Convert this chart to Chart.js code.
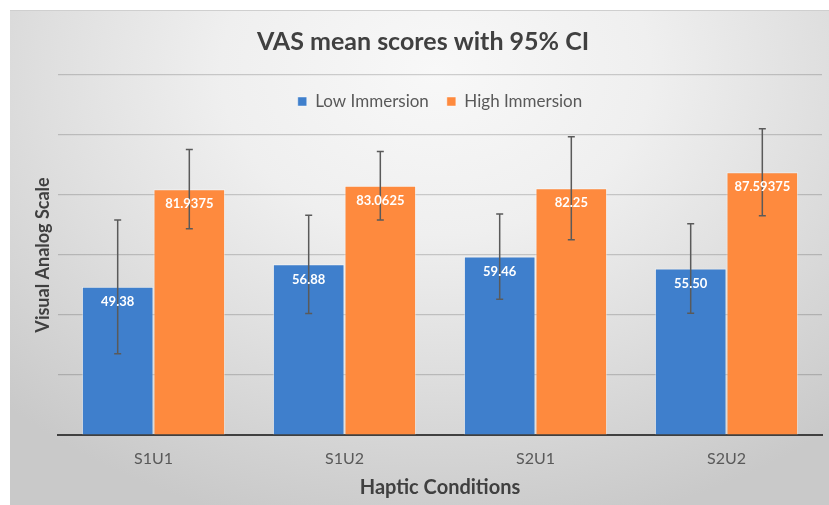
<!DOCTYPE html>
<html>
<head>
<meta charset="utf-8">
<script src="https://cdn.jsdelivr.net/npm/chart.js@4.4.1/dist/chart.umd.min.js"></script>
<style>
  html, body { margin: 0; padding: 0; background: #ffffff; }
  #wrap { position: relative; width: 829px; height: 505px; }
  #bg {
    position: absolute; left: 10px; top: 10px; right: 0; bottom: 0;
    border-top: 1px solid #cfcfcf;
    background: radial-gradient(ellipse 75% 95% at 52% 12%, #f8f8f8 0%, #efefef 35%, #dedede 65%, #c9c9c9 100%);
  }
  #vasChart { position: absolute; left: 0; top: 0; }
</style>
</head>
<body>
<div id="wrap">
  <div id="bg"></div>
  <canvas id="vasChart" width="829" height="505"></canvas>
</div>
<script>
// ## DATA ##
const conditions = ["S1U1", "S1U2", "S2U1", "S2U2"];
const lowImmersion = [49.38, 56.88, 59.46, 55.5];
const highImmersion = [81.9375, 83.0625, 82.25, 87.59375];
// half width of the 95% CI
const lowCI = [22.3, 16.4, 14.2, 14.9];
const highCI = [13.2, 11.4, 17.2, 14.5];
const lowLabels = lowImmersion.map((v) => v.toFixed(2));
const highLabels = highImmersion.map((v) => String(v));

const FONT = "Lato, 'Open Sans', sans-serif";

// legend sits inside the plot area, but laid out as one row
const legendInsidePlugin = {
  id: "legendInside",
  beforeUpdate(chart) {
    if (chart.legend) {
      chart.legend.isHorizontal = () => true;
    }
  },
  afterLayout(chart) {
    const legend = chart.legend;
    if (legend) {
      legend.left = chart.chartArea.left;
      legend.right = chart.chartArea.right;
    }
  },
};

// whiskers for every bar
const errorBarsPlugin = {
  id: "errorBars",
  afterDatasetsDraw(chart) {
    const ctx = chart.ctx;
    const y = chart.scales.y;
    ctx.save();
    ctx.strokeStyle = "#5a5a5a";
    ctx.lineWidth = 1.5;
    chart.data.datasets.forEach((ds, i) => {
      const meta = chart.getDatasetMeta(i);
      meta.data.forEach((bar, j) => {
        const top = y.getPixelForValue(ds.data[j] + ds.ci[j]);
        const bottom = y.getPixelForValue(ds.data[j] - ds.ci[j]);
        ctx.beginPath();
        ctx.moveTo(bar.x, top);
        ctx.lineTo(bar.x, bottom);
        ctx.moveTo(bar.x - 3.5, top);
        ctx.lineTo(bar.x + 3.5, top);
        ctx.moveTo(bar.x - 3.5, bottom);
        ctx.lineTo(bar.x + 3.5, bottom);
        ctx.stroke();
      });
    });
    ctx.restore();
  },
};

// value labels inside the bars
const valueLabelsPlugin = {
  id: "valueLabels",
  afterDraw(chart) {
    const ctx = chart.ctx;
    ctx.save();
    ctx.fillStyle = "#ffffff";
    ctx.font = "bold 13px " + FONT;
    ctx.textAlign = "center";
    ctx.textBaseline = "middle";
    chart.data.datasets.forEach((ds, i) => {
      const meta = chart.getDatasetMeta(i);
      meta.data.forEach((bar, j) => {
        ctx.fillText(ds.valueLabels[j], bar.x, bar.y + 15);
      });
    });
    ctx.restore();
  },
};

const ctx = document.getElementById("vasChart").getContext("2d");
window.vasChart = new Chart(ctx, {
  type: "bar",
  data: {
    labels: conditions,
    datasets: [
      {
        label: "Low Immersion",
        data: lowImmersion,
        ci: lowCI,
        valueLabels: lowLabels,
        backgroundColor: "#3f7fcc",
        borderColor: "rgba(255,255,255,0.45)",
        borderWidth: 1,
        categoryPercentage: 0.75,
        barPercentage: 1.0,
      },
      {
        label: "High Immersion",
        data: highImmersion,
        ci: highCI,
        valueLabels: highLabels,
        backgroundColor: "#fe8a3e",
        borderColor: "rgba(255,255,255,0.45)",
        borderWidth: 1,
        categoryPercentage: 0.75,
        barPercentage: 1.0,
      },
    ],
  },
  options: {
    responsive: false,
    animation: false,
    layout: {
      padding: { left: 24, top: 10, right: 7, bottom: 0 },
    },
    plugins: {
      title: {
        display: true,
        text: "VAS mean scores with 95% CI",
        color: "#404040",
        font: { family: FONT, size: 25, weight: "bold" },
        padding: { top: 17, bottom: 18 },
      },
      legend: {
        position: "chartArea",
        align: "center",
        labels: {
          color: "#595959",
          font: { family: FONT, size: 17 },
          boxWidth: 9,
          boxHeight: 9,
          padding: 18,
        },
      },
      tooltip: { enabled: false },
    },
    scales: {
      y: {
        min: 0,
        max: 120,
        ticks: {
          display: false,
          stepSize: 20,
        },
        border: { display: false },
        grid: {
          color: "rgba(0,0,0,0.17)",
          lineWidth: 1.2,
          drawTicks: false,
        },
        title: {
          display: true,
          text: "Visual Analog Scale",
          color: "#404040",
          font: { family: FONT, size: 18, weight: "bold" },
          padding: { top: 8, bottom: 0 },
        },
        afterFit(scale) {
          scale.width = 34;
        },
      },
      x: {
        ticks: {
          color: "#595959",
          font: { family: FONT, size: 16 },
          padding: 14,
        },
        border: { display: true, color: "#404040", width: 2 },
        grid: {
          display: false,
          drawTicks: false,
        },
        title: {
          display: true,
          text: "Haptic Conditions",
          color: "#404040",
          font: { family: FONT, size: 20, weight: "bold" },
          padding: { top: 0, bottom: 5 },
        },
        afterFit(scale) {
          scale.height = 70;
        },
      },
    },
  },
  plugins: [legendInsidePlugin, errorBarsPlugin, valueLabelsPlugin],
});
</script>
</body>
</html>
